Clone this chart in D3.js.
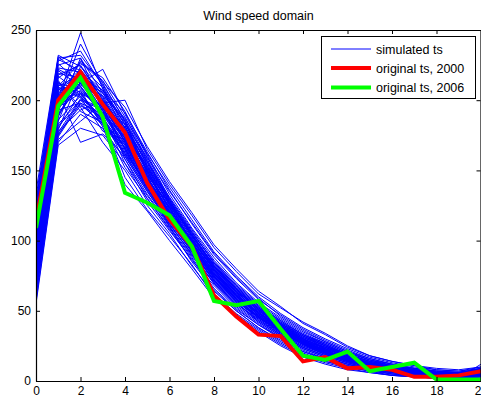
<!DOCTYPE html>
<html>
<head>
<meta charset="utf-8">
<script src="https://cdn.jsdelivr.net/npm/d3@7"></script>
<style>
  body { margin: 0; background: #fff; }
  svg { display: block; font-family: Arial, "Liberation Sans", sans-serif; }
</style>
</head>
<body>
<svg id="chart" width="481" height="398"></svg>
<script>
const xTicks = [0, 2, 4, 6, 8, 10, 12, 14, 16, 18, 20];
const yTicks = [0, 50, 100, 150, 200, 250];
const bins = d3.range(0, 21);
const titleText = "Wind speed domain";
const legendLabels = ["simulated ts", "original ts, 2000", "original ts, 2006"];

const original2000 = [114, 200, 220, 197, 177, 141, 115, 96, 61, 46, 33, 32, 14, 17, 9, 10, 8, 3, 3, 4, 7];
const original2006 = [109, 196, 216, 188, 134, 127, 118, 96, 57, 54, 57, 37, 18, 15, 21, 7, 10, 13, 1, 1, 1];

const simulated = [
  [92,205,215,198,170,142,121,97,76,60,47,37,27,22,15,11,8,6,5,4,6],
  [78,188,222,201,178,150,118,101,80,63,50,40,30,20,17,12,9,7,4,5,7],
  [105,212,208,190,166,139,124,95,73,58,46,35,26,23,14,10,7,5,6,4,5],
  [120,225,230,205,180,155,128,104,82,66,52,41,31,25,18,13,10,8,6,6,8],
  [66,176,196,188,160,135,112,90,70,55,43,33,24,18,13,9,6,5,3,3,4],
  [88,199,240,212,185,148,120,99,78,61,49,36,29,21,16,12,8,6,4,5,6],
  [131,231,218,196,174,146,126,102,79,64,48,39,28,24,17,11,9,7,5,4,9],
  [57,170,190,180,158,130,108,86,68,52,40,31,22,16,12,8,5,4,3,2,3],
  [99,203,212,222,190,160,130,106,84,68,54,42,32,26,19,14,11,9,7,6,7],
  [84,195,205,184,168,141,119,96,75,59,45,36,27,20,15,10,8,6,4,4,5],
  [112,218,225,200,176,151,125,100,81,64,51,38,30,23,17,13,9,7,6,5,6],
  [73,183,200,193,165,138,115,93,72,57,44,34,25,19,14,10,7,5,4,3,5],
  [95,208,202,178,172,145,121,98,77,62,47,37,28,21,16,11,8,6,5,5,6],
  [125,228,235,210,182,150,123,101,79,60,49,39,29,22,15,12,9,6,5,4,7],
  [60,172,185,198,175,147,124,99,78,63,50,40,30,24,18,13,10,8,6,5,6],
  [102,210,218,192,169,143,117,94,74,58,46,35,26,19,14,10,7,5,4,4,5],
  [85,197,228,214,188,158,129,103,83,67,53,43,33,27,20,15,12,9,7,6,8],
  [115,221,210,188,164,137,114,92,71,56,43,33,24,18,13,9,6,5,3,3,4],
  [70,180,205,196,171,144,120,97,76,61,48,37,28,22,16,12,8,6,5,4,6],
  [96,206,215,200,177,149,123,100,79,62,49,38,29,21,15,11,8,6,5,5,6],
  [135,232,224,203,179,152,126,99,77,61,47,36,27,20,14,10,7,5,4,4,5],
  [80,190,212,206,183,154,127,105,82,65,51,41,31,25,18,13,10,7,6,5,7],
  [108,214,192,184,162,136,113,92,72,57,45,35,26,20,15,11,8,6,4,4,5],
  [90,201,248,208,176,146,119,96,75,60,47,37,28,22,16,12,9,7,5,4,6],
  [64,174,198,190,173,148,122,100,80,63,50,39,30,23,17,12,9,7,5,5,7],
  [118,223,220,197,170,142,118,95,74,58,46,36,27,21,15,11,8,6,4,4,5],
  [100,209,206,195,181,156,131,108,86,69,55,44,34,27,20,15,11,8,6,6,8],
  [76,186,203,186,163,140,116,94,73,58,45,35,27,20,14,10,7,5,4,3,4],
  [128,230,232,211,186,157,127,104,81,65,52,40,30,24,17,12,9,7,5,5,7],
  [55,168,180,175,155,132,110,89,70,54,42,32,23,17,12,8,6,4,3,2,3],
  [93,204,214,199,172,145,121,98,78,62,49,38,29,22,16,12,8,6,5,4,6],
  [110,216,226,216,192,161,133,109,88,70,56,45,35,28,21,16,12,9,7,6,9],
  [82,193,198,182,167,141,118,96,75,59,46,36,27,20,15,11,8,6,4,4,5],
  [98,207,222,194,173,147,124,97,76,61,48,38,28,21,15,11,8,6,5,4,6],
  [68,178,193,200,178,150,122,101,80,64,51,40,30,23,17,13,9,7,5,5,7],
  [122,226,212,191,169,143,119,96,75,59,46,36,27,20,14,10,7,5,4,4,5],
  [87,198,218,205,184,153,125,102,81,65,51,40,31,24,18,13,10,8,6,5,7],
  [104,211,204,187,166,140,117,95,74,58,45,35,26,19,14,10,7,5,4,3,5],
  [75,185,224,209,180,152,128,106,85,68,54,43,33,26,19,14,11,8,6,6,8],
  [114,219,216,193,171,144,120,97,76,60,47,37,28,21,16,11,8,6,5,4,6],
  [94,205,170,176,160,135,112,90,70,55,44,33,25,19,14,10,7,5,4,4,5],
  [100,200,215,198,200,165,140,118,95,78,62,52,42,34,25,18,14,11,9,8,10],
  [90,195,210,190,168,142,118,97,76,62,48,38,28,22,16,12,9,6,4,2,12],
  [85,192,230,195,165,138,110,85,65,50,38,28,20,14,10,7,4,3,2,1,2],
  [62,175,200,185,145,122,103,83,60,47,36,26,18,13,9,6,4,3,2,2,3],
  [107,213,195,170,150,125,105,82,62,48,37,27,19,14,10,7,5,3,2,2,4],
  [88,196,207,181,140,121,100,80,59,46,35,25,17,12,8,6,4,3,2,1,3],
  [119,222,214,189,155,128,107,87,64,50,38,29,21,15,11,8,5,4,3,2,4],
  [72,182,197,183,152,130,109,88,66,51,40,30,21,16,11,8,6,4,3,3,4],
  [97,207,219,196,158,133,111,91,69,53,41,31,23,17,12,9,6,5,3,3,5],
  [81,191,211,203,187,162,138,115,92,75,60,48,38,30,23,17,13,10,8,7,9],
  [126,229,221,207,191,163,136,112,90,73,58,47,37,29,22,16,12,9,7,6,9],
  [65,177,201,194,183,159,135,113,91,74,59,46,36,28,21,15,11,8,6,6,8],
  [103,210,227,213,195,167,142,120,97,80,64,53,41,33,24,18,14,11,8,7,10],
  [91,202,209,191,174,151,126,104,83,66,52,42,33,26,19,14,11,8,6,5,8],
  [79,189,213,199,178,149,127,103,81,65,50,39,29,23,17,12,9,7,5,5,6],
  [113,217,205,185,162,140,116,94,71,56,42,32,24,18,13,9,7,5,4,3,5],
  [86,194,220,202,177,153,130,107,84,67,53,41,32,25,18,13,10,7,5,5,7],
  [101,209,203,183,161,137,115,93,72,57,45,34,26,20,14,10,7,5,4,3,5],
  [69,179,217,207,185,156,129,105,82,66,52,41,32,25,19,14,10,8,6,5,7]
];

const svg = d3.select("#chart");
const mLeft = 36, mRight = 481, mTop = 30, mBottom = 381;

const x = d3.scaleLinear().domain([0, 20]).range([mLeft, mRight]);
const y = d3.scaleLinear().domain([0, 250]).range([mBottom, mTop]);

const line = d3.line().x((d, i) => x(bins[i])).y(d => y(d));

svg.append("defs").append("clipPath").attr("id", "clip")
  .append("rect").attr("x", mLeft).attr("y", mTop).attr("width", mRight - mLeft).attr("height", mBottom - mTop);

const plot = svg.append("g").attr("clip-path", "url(#clip)");

plot.selectAll("path.sim").data(simulated).join("path")
  .attr("class", "sim")
  .attr("fill", "none")
  .attr("stroke", "#0000ff")
  .attr("stroke-width", 1)
  .attr("d", line);

plot.append("path").datum(original2000)
  .attr("fill", "none").attr("stroke", "#ff0000").attr("stroke-width", 4)
  .attr("stroke-linejoin", "miter").attr("d", line);

plot.append("path").datum(original2006)
  .attr("fill", "none").attr("stroke", "#00ff00").attr("stroke-width", 4)
  .attr("stroke-linejoin", "miter").attr("d", line);

// Axes (MATLAB-style box with inward ticks)
const fontSize = "12px";
const xAxisB = d3.axisBottom(x).tickValues(xTicks).tickSizeInner(-4).tickSizeOuter(0).tickPadding(5);
const gxb = svg.append("g").attr("transform", `translate(0,${mBottom})`).call(xAxisB);
const xAxisT = d3.axisTop(x).tickValues(xTicks).tickSizeInner(-4).tickSizeOuter(0).tickFormat("");
const gxt = svg.append("g").attr("transform", `translate(0,${mTop})`).call(xAxisT);
const yAxisL = d3.axisLeft(y).tickValues(yTicks).tickSizeInner(-4).tickSizeOuter(0).tickPadding(5);
const gyl = svg.append("g").attr("transform", `translate(${mLeft},0)`).call(yAxisL);
const yAxisR = d3.axisRight(y).tickValues(yTicks).tickSizeInner(-4).tickSizeOuter(0).tickFormat("");
const gyr = svg.append("g").attr("transform", `translate(${mRight - 0.5},0)`).call(yAxisR);

[gxb, gxt, gyl, gyr].forEach(g => {
  g.selectAll("path.domain").attr("stroke", "#000").attr("stroke-width", 1.2);
  g.selectAll(".tick line").attr("stroke", "#000");
  g.selectAll("text").attr("font-size", fontSize).attr("fill", "#000")
    .attr("font-family", "Arial, 'Liberation Sans', sans-serif");
});

svg.append("text")
  .attr("x", (mLeft + mRight) / 2).attr("y", 20)
  .attr("text-anchor", "middle")
  .attr("font-size", "12.5px")
  .attr("fill", "#000")
  .text(titleText);

// Legend
const lg = svg.append("g");
lg.append("rect").attr("x", 321.5).attr("y", 36.5).attr("width", 154).attr("height", 62)
  .attr("fill", "#fff").attr("stroke", "#000").attr("stroke-width", 1);
const legendColors = ["#0000ff", "#ff0000", "#00ff00"];
const legendWidths = [1, 4, 4];
const rowY = [49, 68, 87.5];
legendLabels.forEach((lab, i) => {
  lg.append("line").attr("x1", 331).attr("x2", 371).attr("y1", rowY[i]).attr("y2", rowY[i])
    .attr("stroke", legendColors[i]).attr("stroke-width", legendWidths[i]);
  lg.append("text").attr("x", 376).attr("y", rowY[i] + 4.5)
    .attr("font-size", "12.5px").attr("fill", "#000").text(lab);
});
</script>
</body>
</html>
